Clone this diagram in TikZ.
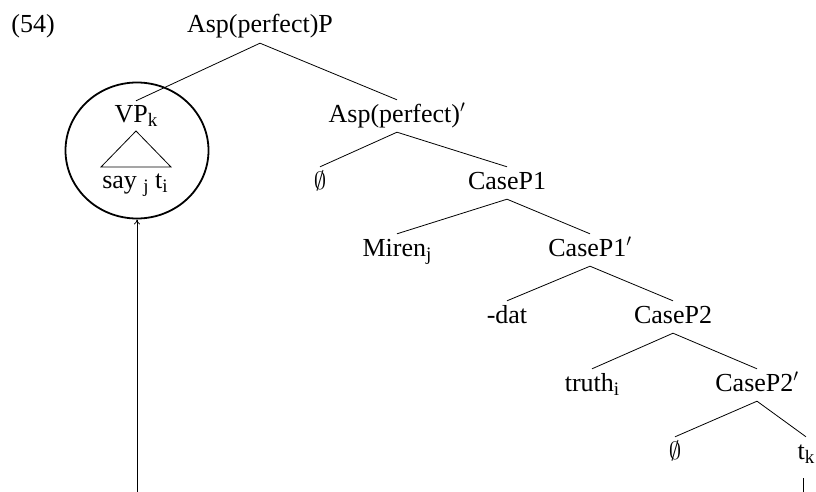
\documentclass[tikz,border=0pt]{standalone}
\usepackage{fontspec}
\setmainfont{Liberation Serif}
\usetikzlibrary{arrows.meta,shapes.geometric}
\newcommand{\sbs}[1]{\raisebox{-4pt}{\fontsize{19}{19}\selectfont #1}}
\begin{document}
\begin{tikzpicture}[x=1pt,y=-1pt,
  lbl/.style={anchor=base,inner xsep=0pt,inner ysep=5pt,text height=17pt,text depth=5pt,font=\fontsize{26}{30}\selectfont},
  edge/.style={line width=0.8pt},
  ringstyle/.style={draw,ellipse,line width=1.8pt,inner sep=0pt,minimum width=143pt,minimum height=136pt}]
\useasboundingbox (0,0) rectangle (816,492);
% labels
\node[lbl] (ex) at (33,33) {(54)};
\node[lbl] (root) at (260,33) {Asp(perfect)P};
\node[lbl] (vp) at (136,123) {VP\sbs{k}};
\node[lbl] (say) at (135,188) {say \sbs{j} t\sbs{i}};
\node[lbl] (asp1) at (397,122) {Asp(perfect)$'$};
\node[lbl] (e1) at (320,189) {$\emptyset$};
\node[lbl] (cp1) at (507,189) {CaseP1};
\node[lbl] (miren) at (397,256) {Miren\sbs{j}};
\node[lbl] (cp1b) at (590,256) {CaseP1$'$};
\node[lbl] (dat) at (507,323) {-dat};
\node[lbl] (cp2) at (673,323) {CaseP2};
\node[lbl] (truth) at (592,391) {truth\sbs{i}};
\node[lbl] (cp2b) at (757,391) {CaseP2$'$};
\node[lbl] (e2) at (675,459) {$\emptyset$};
\node[lbl] (tk) at (806,459) {t\sbs{k}};
% circle around VP
\node[ringstyle] (ring) at (137,150.5) {};
% triangle
\draw[edge] (136,131) -- (101,167) -- (171,167) -- cycle;
% tree edges
\draw[edge] (root.south) -- (vp.north);
\draw[edge] (root.south) -- (asp1.north);
\draw[edge] (asp1.south) -- (e1.north);
\draw[edge] (asp1.south) -- (cp1.north);
\draw[edge] (cp1.south) -- (miren.north);
\draw[edge] (cp1.south) -- (cp1b.north);
\draw[edge] (cp1b.south) -- (dat.north);
\draw[edge] (cp1b.south) -- (cp2.north);
\draw[edge] (cp2.south) -- (truth.north);
\draw[edge] (cp2.south) -- (cp2b.north);
\draw[edge] (cp2b.south) -- (e2.north);
\draw[edge] (cp2b.south) -- (tk.north);
% movement lines
\coordinate (abase) at (137,492);
\draw[edge,-{To[length=5pt,width=6pt]}] (abase) -- (ring.south);
\coordinate (tkend) at (803,492);
\draw[edge] ([xshift=-3pt,yshift=-9pt]tk.south) -- (tkend);
\end{tikzpicture}
\end{document}
